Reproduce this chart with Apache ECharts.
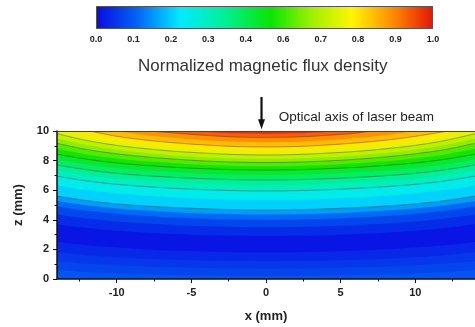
<!DOCTYPE html>
<html>
<head>
<meta charset="utf-8">
<script src="https://cdn.jsdelivr.net/npm/echarts@6/dist/echarts.min.js"></script>
<style>
  html, body { margin: 0; padding: 0; background: #fff; }
  #chart { width: 475px; height: 327px; }
</style>
</head>
<body>
<div id="chart"></div>
<script>
// x positions (mm) where each contour's height is read
const contourX = [-14, -12, -10, -8, -6, -4, -2, 0, 2, 4, 6, 8, 10, 12, 14];

// levels whose region lies above the curve (field grows toward the top)
const upLevels = [0.03, 0.06, 0.1, 0.15, 0.2, 0.25, 0.3, 0.35, 0.4, 0.45, 0.5, 0.55, 0.6, 0.65, 0.7, 0.75, 0.8, 0.85, 0.9, 0.95];
// z (mm) of each contour at contourX, or [x, z] pairs where it meets the top edge
const upCurves = [
    [3.70, 3.44, 3.26, 3.13, 3.04, 2.96, 2.92, 2.90, 2.92, 2.96, 3.04, 3.13, 3.26, 3.44, 3.70],
    [4.35, 4.08, 3.88, 3.75, 3.64, 3.57, 3.52, 3.50, 3.52, 3.57, 3.64, 3.75, 3.88, 4.08, 4.35],
    [4.90, 4.61, 4.41, 4.26, 4.15, 4.07, 4.02, 4.00, 4.02, 4.07, 4.15, 4.26, 4.41, 4.61, 4.90],
    [5.27, 4.98, 4.76, 4.62, 4.51, 4.42, 4.37, 4.35, 4.37, 4.42, 4.51, 4.62, 4.76, 4.98, 5.27],
    [5.60, 5.30, 5.08, 4.93, 4.82, 4.74, 4.68, 4.66, 4.68, 4.74, 4.82, 4.93, 5.08, 5.30, 5.60],
    [6.32, 6.01, 5.79, 5.63, 5.51, 5.43, 5.37, 5.35, 5.37, 5.43, 5.51, 5.63, 5.79, 6.01, 6.32],
    [6.95, 6.63, 6.40, 6.24, 6.12, 6.03, 5.97, 5.95, 5.97, 6.03, 6.12, 6.24, 6.40, 6.63, 6.95],
    [7.33, 7.01, 6.78, 6.62, 6.50, 6.41, 6.35, 6.33, 6.35, 6.41, 6.50, 6.62, 6.78, 7.01, 7.33],
    [7.70, 7.38, 7.14, 6.98, 6.86, 6.77, 6.71, 6.69, 6.71, 6.77, 6.86, 6.98, 7.14, 7.38, 7.70],
    [8.07, 7.74, 7.50, 7.33, 7.21, 7.11, 7.05, 7.03, 7.05, 7.11, 7.21, 7.33, 7.50, 7.74, 8.07],
    [8.43, 8.09, 7.84, 7.67, 7.54, 7.45, 7.38, 7.36, 7.38, 7.45, 7.54, 7.67, 7.84, 8.09, 8.43],
    [8.80, 8.42, 8.15, 7.96, 7.82, 7.71, 7.64, 7.62, 7.64, 7.71, 7.82, 7.96, 8.15, 8.42, 8.80],
    [9.17, 8.75, 8.46, 8.25, 8.09, 7.97, 7.90, 7.87, 7.90, 7.97, 8.09, 8.25, 8.46, 8.75, 9.17],
    [9.49, 9.05, 8.74, 8.52, 8.35, 8.23, 8.15, 8.12, 8.15, 8.23, 8.35, 8.52, 8.74, 9.05, 9.49],
    [9.82, 9.36, 9.03, 8.80, 8.62, 8.50, 8.41, 8.38, 8.41, 8.50, 8.62, 8.80, 9.03, 9.36, 9.82],
    [[-13.4, 10], [-12, 9.67], [-10, 9.33], [-8, 9.09], [-6, 8.91], [-4, 8.77], [-2, 8.68], [0, 8.65], [2, 8.68], [4, 8.77], [6, 8.91], [8, 9.09], [10, 9.33], [12, 9.67], [13.4, 10]],
    [[-11.8, 10], [-10, 9.64], [-8, 9.38], [-6, 9.19], [-4, 9.05], [-2, 8.95], [0, 8.92], [2, 8.95], [4, 9.05], [6, 9.19], [8, 9.38], [10, 9.64], [12.2, 10]],
    [[-10.1, 10], [-8, 9.72], [-6, 9.52], [-4, 9.37], [-2, 9.27], [0, 9.24], [2, 9.27], [4, 9.37], [6, 9.52], [8, 9.72], [10.1, 10]],
    [[-7.8, 10], [-6, 9.85], [-4, 9.70], [-2, 9.59], [0, 9.56], [2, 9.59], [4, 9.70], [6, 9.85], [7.0, 10]],
    [[-4.8, 10], [-4, 9.94], [-2, 9.84], [0, 9.80], [2, 9.84], [4, 9.94], [4.6, 10]]
];

// levels whose region lies below the curve (field rises again toward z = 0)
const lowLevels = [0.03, 0.05, 0.07, 0.09];
const lowCurves = [
    [2.50, 2.28, 2.12, 2.00, 1.92, 1.86, 1.81, 1.80, 1.81, 1.86, 1.92, 2.00, 2.12, 2.28, 2.50],
    [1.80, 1.61, 1.47, 1.37, 1.30, 1.25, 1.21, 1.20, 1.21, 1.25, 1.30, 1.37, 1.47, 1.61, 1.80],
    [1.20, 1.04, 0.93, 0.85, 0.79, 0.74, 0.71, 0.70, 0.71, 0.74, 0.79, 0.85, 0.93, 1.04, 1.20],
    [0.60, 0.47, 0.38, 0.32, 0.27, 0.23, 0.21, 0.20, 0.21, 0.23, 0.27, 0.32, 0.38, 0.47, 0.60]
];

const xTicks = [-10, -5, 0, 5, 10];
const xMinorTicks = [-12.5, -7.5, -2.5, 2.5, 7.5, 12.5];
const cbLabels = ['0.0', '0.1', '0.2', '0.3', '0.4', '0.6', '0.7', '0.8', '0.9', '1.0'];

// optical axis arrow, in data units of the map
const arrowX = -0.3;
const arrowTop = 12.3;
const arrowTip = 10.12;
const noteX = 0.85;
const noteZ = 10.95;

const cmapStops = [
    [0, [10, 10, 225]], [0.12, [0, 100, 245]], [0.25, [0, 235, 255]],
    [0.38, [0, 240, 150]], [0.52, [10, 230, 0]], [0.64, [160, 240, 0]],
    [0.76, [255, 245, 0]], [0.88, [255, 140, 0]], [1, [230, 20, 10]]
];
function cmap(v) {
    for (let i = 1; i < cmapStops.length; i++) {
        const [v1, c1] = cmapStops[i];
        const [v0, c0] = cmapStops[i - 1];
        if (v <= v1) {
            const t = (v - v0) / (v1 - v0);
            const c = c0.map((a, k) => Math.round(a + (c1[k] - a) * t));
            return 'rgb(' + c.join(',') + ')';
        }
    }
    return 'rgb(230,20,10)';
}

function toPoints(curve) {
    return Array.isArray(curve[0]) ? curve : curve.map((z, i) => [contourX[i], z]);
}

const font = 'Arial, "Liberation Sans", sans-serif';
const series = [];

upLevels.forEach((lv, i) => {
    const next = i + 1 < upLevels.length ? upLevels[i + 1] : 1.0;
    const major = Math.round(lv * 100) % 10 === 0 && lv >= 0.2;
    series.push({
        type: 'line',
        xAxisIndex: 0, yAxisIndex: 0,
        data: toPoints(upCurves[i]),
        smooth: 0.35,
        symbol: 'none',
        silent: true,
        lineStyle: { width: major ? 0.7 : 0, color: 'rgba(50,50,50,0.6)' },
        areaStyle: { origin: 'end', color: cmap((lv + next) / 2), opacity: 1 }
    });
});

lowLevels.forEach((lv, i) => {
    const next = i + 1 < lowLevels.length ? lowLevels[i + 1] : 0.11;
    series.push({
        type: 'line',
        xAxisIndex: 0, yAxisIndex: 0,
        data: toPoints(lowCurves[i]),
        smooth: 0.35,
        symbol: 'none',
        silent: true,
        lineStyle: { width: 0 },
        areaStyle: { origin: 'start', color: cmap((lv + next) / 2), opacity: 1 }
    });
});

// colour scale bar
series.push({
    type: 'bar',
    xAxisIndex: 3, yAxisIndex: 1,
    data: [cbLabels.length - 1],
    barWidth: '100%',
    silent: true,
    itemStyle: {
        color: new echarts.graphic.LinearGradient(0, 0, 1, 0,
            cmapStops.map(s => ({ offset: s[0], color: 'rgb(' + s[1].join(',') + ')' }))),
        borderColor: '#555',
        borderWidth: 1
    }
});

const chart = echarts.init(document.getElementById('chart'), null, { renderer: 'canvas' });

const option = {
    animation: false,
    title: {
        text: 'Normalized magnetic flux density',
        left: 133,
        top: 53,
        textStyle: { fontFamily: font, fontSize: 17, fontWeight: 'normal', color: '#333' }
    },
    grid: [
        { left: 57, top: 131, right: -8, bottom: 48, show: true, borderWidth: 0, backgroundColor: cmap(0.015) },
        { left: 96, top: 6, width: 337, height: 23 }
    ],
    xAxis: [
        {
            gridIndex: 0, type: 'value', min: -14, max: 14, z: 5,
            name: 'x (mm)', nameLocation: 'middle', nameGap: 31,
            nameTextStyle: { fontFamily: font, fontSize: 13, fontWeight: 'bold', color: '#222' },
            axisLine: { onZero: false, lineStyle: { color: '#111', width: 1.5 } },
            axisTick: { customValues: xTicks, length: 4, lineStyle: { color: '#111' } },
            axisLabel: { customValues: xTicks, margin: 8, fontFamily: font, fontSize: 11, fontWeight: 'bold', color: '#222' },
            splitLine: { show: false }
        },
        {
            gridIndex: 0, type: 'value', min: -14, max: 14, position: 'top', z: 5,
            axisLine: { onZero: false, lineStyle: { color: '#444', width: 1 } },
            axisTick: { show: false }, axisLabel: { show: false }, splitLine: { show: false }
        },
        {
            gridIndex: 0, type: 'value', min: -14, max: 14, position: 'bottom', z: 5,
            axisLine: { show: false, onZero: false },
            axisTick: { customValues: xMinorTicks, length: 2.5, lineStyle: { color: '#111' } },
            axisLabel: { show: false }, splitLine: { show: false }
        },
        {
            gridIndex: 1, type: 'value', min: 0, max: cbLabels.length - 1, interval: 1,
            axisLine: { show: false, onZero: false },
            axisTick: { length: 3, lineStyle: { color: '#333' } },
            axisLabel: {
                formatter: v => cbLabels[v], margin: 6,
                fontFamily: font, fontSize: 9, fontWeight: 'bold', color: '#222'
            },
            splitLine: { show: false }
        }
    ],
    yAxis: [
        {
            gridIndex: 0, type: 'value', min: 0, max: 10, interval: 2, z: 5,
            name: 'z (mm)', nameLocation: 'middle', nameGap: 32, nameRotate: 90,
            nameTextStyle: { fontFamily: font, fontSize: 13, fontWeight: 'bold', color: '#222' },
            axisLine: { show: true, onZero: false, lineStyle: { color: '#111', width: 1.5 } },
            axisTick: { show: true, length: 4, lineStyle: { color: '#111' } },
            minorTick: { show: true, splitNumber: 2, length: 2.5, lineStyle: { color: '#111' } },
            axisLabel: { margin: 8, fontFamily: font, fontSize: 11, fontWeight: 'bold', color: '#222' },
            splitLine: { show: false }
        },
        {
            gridIndex: 1, type: 'category', data: ['scale'],
            axisLine: { show: false }, axisTick: { show: false }, axisLabel: { show: false }
        }
    ],
    series: series
};

chart.setOption(option);

// arrow marking the laser's optical axis, placed through the map's own scales
const arrowStart = chart.convertToPixel({ gridIndex: 0 }, [arrowX, arrowTop]);
const arrowEnd = chart.convertToPixel({ gridIndex: 0 }, [arrowX, arrowTip]);
const notePos = chart.convertToPixel({ gridIndex: 0 }, [noteX, noteZ]);
chart.setOption({
    graphic: [
        {
            type: 'line', z: 100,
            shape: { x1: arrowStart[0], y1: arrowStart[1], x2: arrowEnd[0], y2: arrowEnd[1] - 8 },
            style: { stroke: '#111', lineWidth: 2.2 }
        },
        {
            type: 'polygon', z: 100,
            shape: { points: [[arrowEnd[0] - 3.5, arrowEnd[1] - 10], [arrowEnd[0] + 3.5, arrowEnd[1] - 10], [arrowEnd[0], arrowEnd[1]]] },
            style: { fill: '#111' }
        },
        {
            type: 'text', z: 100,
            style: {
                text: 'Optical axis of laser beam', x: notePos[0], y: notePos[1],
                verticalAlign: 'middle', font: '13.5px ' + font, fill: '#222'
            }
        }
    ]
});
</script>
</body>
</html>
